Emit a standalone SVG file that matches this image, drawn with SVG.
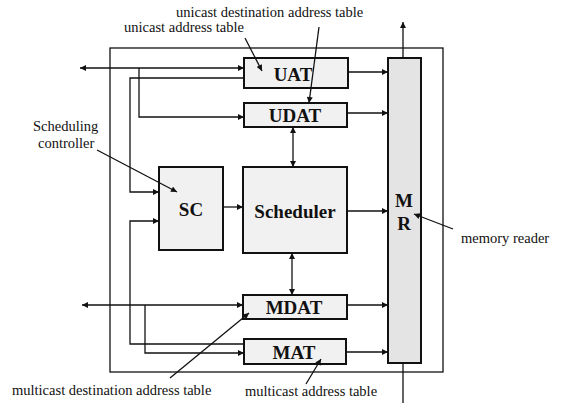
<svg xmlns="http://www.w3.org/2000/svg" width="562" height="403" viewBox="0 0 562 403">
<defs>
<marker id="ah" viewBox="0 0 10 10" refX="10" refY="5" markerWidth="7" markerHeight="6" markerUnits="userSpaceOnUse" orient="auto-start-reverse">
<path d="M0,0 L10,5 L0,10 Z" fill="#111"/>
</marker>
<style>
.box{fill:#f1f1f1;stroke:#111;stroke-width:2}
.mr{fill:#e4e4e4;stroke:#111;stroke-width:2}
text{font-family:'Liberation Serif','DejaVu Serif','Times New Roman',serif;fill:#111}
.lbl{font-weight:bold;font-size:19px;text-anchor:middle}
.note{font-size:14.5px}
.ln{fill:none;stroke:#111;stroke-width:1.3}
.arr{fill:none;stroke:#111;stroke-width:1.3;marker-end:url(#ah)}
.dbl{fill:none;stroke:#111;stroke-width:1.3;marker-start:url(#ah);marker-end:url(#ah)}
</style>
</defs>
<rect x="0" y="0" width="562" height="403" fill="#fff"/>
<rect id="frame" x="110" y="48" width="333" height="324" fill="none" stroke="#111" stroke-width="1.3"/>

<g id="UAT"><rect class="box" x="244" y="58" width="104" height="30"/><text class="lbl" x="293" y="81" font-family="Liberation Serif, serif">UAT</text></g>
<g id="UDAT"><rect class="box" x="244" y="103" width="103" height="24"/><text class="lbl" x="295" y="122" font-family="Liberation Serif, serif">UDAT</text></g>
<g id="SC"><rect class="box" x="159" y="167" width="64" height="83"/><text class="lbl" x="191" y="216" font-family="Liberation Serif, serif">SC</text></g>
<g id="Scheduler"><rect class="box" x="243" y="167" width="104" height="86"/><text class="lbl" x="295" y="218" font-family="Liberation Serif, serif">Scheduler</text></g>
<g id="MDAT"><rect class="box" x="243" y="295" width="104" height="24"/><text class="lbl" x="294" y="314" font-family="Liberation Serif, serif">MDAT</text></g>
<g id="MAT"><rect class="box" x="244" y="339" width="102" height="25"/><text class="lbl" x="294" y="359" font-family="Liberation Serif, serif">MAT</text></g>
<g id="MR"><rect class="mr" x="388" y="58" width="33" height="305"/><text class="lbl" x="404" y="207" font-family="Liberation Serif, serif">M</text><text class="lbl" x="404" y="230" font-family="Liberation Serif, serif">R</text></g>

<g id="connectors">
<path class="dbl" d="M80,68 H244"/>
<path class="arr" d="M139,68 V117 H244"/>
<path class="arr" d="M244,78 H130 V192 H159"/>
<path class="dbl" d="M82,305 H243"/>
<path class="arr" d="M145,305 V353 H244"/>
<path class="arr" d="M244,344 H130 V221 H159"/>
<path class="arr" d="M348,72 H388"/>
<path class="arr" d="M347,113 H388"/>
<path class="dbl" d="M293,127 V167"/>
<path class="arr" d="M223,207 H243"/>
<path class="arr" d="M347,211 H388"/>
<path class="dbl" d="M292,253 V295"/>
<path class="arr" d="M347,305 H388"/>
<path class="arr" d="M346,352 H388"/>
<path class="arr" d="M403,58 V22"/>
<path class="ln" d="M403,363 V403"/>
<path class="arr" d="M319,27 L309,103"/>
<path class="arr" d="M245,38 L262,71"/>
<path class="arr" d="M97,150 L177,192"/>
<path class="arr" d="M453,229 L414,214"/>
<path class="arr" d="M170,378 L249,313"/>
<path class="arr" d="M306,384 L321,359"/>
</g>

<g id="labels">
<text class="note" x="176" y="17">unicast destination address table</text>
<text class="note" x="124" y="32">unicast address table</text>
<text class="note" x="33" y="131">Scheduling</text>
<text class="note" x="38" y="148">controller</text>
<text class="note" x="461" y="243">memory reader</text>
<text class="note" x="12" y="395">multicast destination address table</text>
<text class="note" x="245" y="396">multicast address table</text>
</g>
</svg>
